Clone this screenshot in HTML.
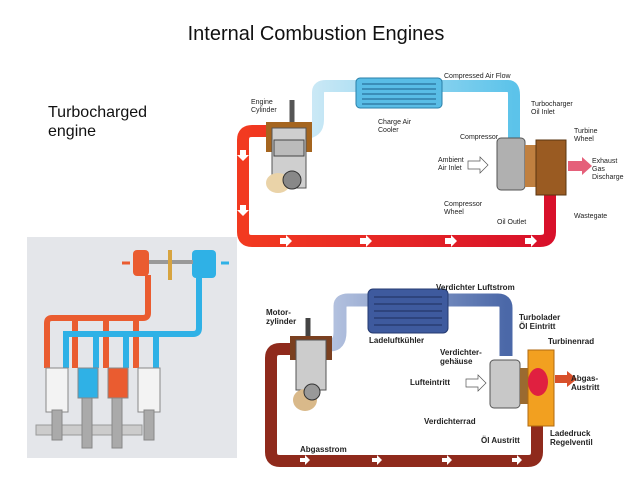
<!DOCTYPE html>
<html><head><style>
body{margin:0;width:638px;height:479px;background:#fff;overflow:hidden;font-family:"Liberation Sans",sans-serif}
</style></head><body>
<svg width="638" height="479" viewBox="0 0 638 479" xmlns="http://www.w3.org/2000/svg" font-family="Liberation Sans, sans-serif">
<defs>
<linearGradient id="rg" x1="0" x2="1"><stop offset="0" stop-color="#f23a20"/><stop offset="1" stop-color="#d8102a"/></linearGradient>
<linearGradient id="bl" x1="0" x2="1"><stop offset="0" stop-color="#cfeaf6"/><stop offset="1" stop-color="#5cc3ea"/></linearGradient>
<linearGradient id="bl2" x1="0" x2="1"><stop offset="0" stop-color="#b5c3e0"/><stop offset="1" stop-color="#4b68a8"/></linearGradient>
</defs>
<text x="316" y="40" font-size="20" text-anchor="middle" fill="#111">Internal Combustion Engines</text>
<text x="48" y="117" font-size="16" fill="#111">Turbocharged</text>
<text x="48" y="136" font-size="16" fill="#111">engine</text>

<!-- TOP DIAGRAM -->
<path d="M268 131 H252 Q243 131 243 140 V232 Q243 241 252 241 H540 Q550 241 550 232 V195" fill="none" stroke="url(#rg)" stroke-width="12"/>
<g fill="#fff"><path d="M240 150 h6 v5 h3 l-6 6 l-6 -6 h3z"/><path d="M240 205 h6 v5 h3 l-6 6 l-6 -6 h3z"/><path d="M280 238 h6 v-3 l6 6 l-6 6 v-3 h-6z"/><path d="M360 238 h6 v-3 l6 6 l-6 6 v-3 h-6z"/><path d="M445 238 h6 v-3 l6 6 l-6 6 v-3 h-6z"/><path d="M525 238 h6 v-3 l6 6 l-6 6 v-3 h-6z"/></g>
<path d="M304 133 Q318 133 318 120 V92 Q318 86 326 86 H360 M440 86 H508 Q514 86 514 95 V140" fill="none" stroke="url(#bl)" stroke-width="12"/>
<rect x="356" y="78" width="86" height="30" rx="4" fill="#59bde6" stroke="#2a7fa8"/>
<g stroke="#1d5f8a" stroke-width="1"><line x1="362" y1="84" x2="436" y2="84"/><line x1="362" y1="89" x2="436" y2="89"/><line x1="362" y1="94" x2="436" y2="94"/><line x1="362" y1="99" x2="436" y2="99"/><line x1="362" y1="104" x2="436" y2="104"/></g>
<!-- engine -->
<rect x="266" y="122" width="46" height="30" fill="#a5651f"/>
<rect x="272" y="128" width="34" height="60" fill="#cfcfcf" stroke="#555"/>
<rect x="274" y="140" width="30" height="16" fill="#bbb" stroke="#444"/>
<ellipse cx="278" cy="183" rx="12" ry="10" fill="#ead3a8"/>
<circle cx="292" cy="180" r="9" fill="#888" stroke="#333"/>
<path d="M292 122 V100" stroke="#555" stroke-width="5" fill="none"/>
<!-- turbo -->
<rect x="497" y="138" width="28" height="52" rx="4" fill="#b0b0b0" stroke="#555"/>
<rect x="525" y="145" width="12" height="42" fill="#c08040"/>
<path d="M536 140 h30 v55 h-30 z" fill="#9a5b22" stroke="#5a3510"/>
<path d="M568 161 h14 v-4 l10 9 l-10 9 v-4 h-14z" fill="#e5607a"/>
<path d="M468 161 h12 v-4 l8 8 l-8 8 v-4 h-12z" fill="#fff" stroke="#555" stroke-width=".7"/>
<g font-size="7" fill="#222">
<text x="251" y="104">Engine</text><text x="251" y="112">Cylinder</text>
<text x="378" y="124">Charge Air</text><text x="378" y="132">Cooler</text>
<text x="444" y="78">Compressed Air Flow</text>
<text x="531" y="106">Turbocharger</text><text x="531" y="114">Oil Inlet</text>
<text x="460" y="139">Compressor</text>
<text x="574" y="133">Turbine</text><text x="574" y="141">Wheel</text>
<text x="438" y="162">Ambient</text><text x="438" y="170">Air Inlet</text>
<text x="592" y="163">Exhaust</text><text x="592" y="171">Gas</text><text x="592" y="179">Discharge</text>
<text x="444" y="206">Compressor</text><text x="444" y="214">Wheel</text>
<text x="497" y="224">Oil Outlet</text>
<text x="574" y="218">Wastegate</text>
</g>

<!-- BOTTOM DIAGRAM -->
<path d="M296 349 H280 Q271 349 271 358 V452 Q271 461 280 461 H528 Q537 461 537 452 V415" fill="none" stroke="#8f2a1c" stroke-width="12"/>
<g fill="#fff"><path d="M300 458 h5 v-3 l5 5 l-5 5 v-3 h-5z"/><path d="M372 458 h5 v-3 l5 5 l-5 5 v-3 h-5z"/><path d="M442 458 h5 v-3 l5 5 l-5 5 v-3 h-5z"/><path d="M512 458 h5 v-3 l5 5 l-5 5 v-3 h-5z"/></g>
<path d="M330 345 Q340 345 340 332 V306 Q340 300 348 300 H370 M446 300 H498 Q506 300 506 308 V356" fill="none" stroke="url(#bl2)" stroke-width="13"/>
<rect x="368" y="289" width="80" height="44" rx="5" fill="#3e5a9e" stroke="#243a70"/>
<g stroke="#1e2f5c"><line x1="374" y1="297" x2="442" y2="297"/><line x1="374" y1="304" x2="442" y2="304"/><line x1="374" y1="311" x2="442" y2="311"/><line x1="374" y1="318" x2="442" y2="318"/><line x1="374" y1="325" x2="442" y2="325"/></g>
<rect x="290" y="336" width="42" height="24" fill="#7a4020"/>
<rect x="296" y="340" width="30" height="50" fill="#ccc" stroke="#555"/>
<ellipse cx="305" cy="400" rx="12" ry="11" fill="#d9b98a"/>
<circle cx="312" cy="392" r="8" fill="#999" stroke="#333"/>
<path d="M308 336 V318" stroke="#444" stroke-width="5" fill="none"/>
<rect x="490" y="360" width="30" height="48" rx="4" fill="#c8c8c8" stroke="#555"/>
<rect x="520" y="368" width="8" height="36" fill="#9a6a30"/>
<path d="M528 350 h26 v76 h-26 z" fill="#f2a020" stroke="#b06a10"/>
<ellipse cx="538" cy="382" rx="10" ry="14" fill="#e02040"/>
<path d="M555 375 h12 v-4 l10 8 l-10 8 v-4 h-12z" fill="#d8502a"/>
<path d="M466 379 h12 v-4 l8 8 l-8 8 v-4 h-12z" fill="#fff" stroke="#555" stroke-width=".7"/>
<g font-size="8" font-weight="bold" fill="#222">
<text x="266" y="315">Motor-</text><text x="266" y="324">zylinder</text>
<text x="369" y="343">Ladeluftkühler</text>
<text x="436" y="290">Verdichter Luftstrom</text>
<text x="519" y="320">Turbolader</text><text x="519" y="329">Öl Eintritt</text>
<text x="548" y="344">Turbinenrad</text>
<text x="440" y="355">Verdichter-</text><text x="440" y="364">gehäuse</text>
<text x="410" y="385">Lufteintritt</text>
<text x="571" y="381">Abgas-</text><text x="571" y="390">Austritt</text>
<text x="424" y="424">Verdichterrad</text>
<text x="481" y="443">Öl Austritt</text>
<text x="550" y="436">Ladedruck</text><text x="550" y="445">Regelventil</text>
<text x="300" y="452">Abgasstrom</text>
</g>

<!-- LEFT PANEL -->
<rect x="27" y="237" width="210" height="221" fill="#e4e6ea"/>
<path d="M148 275 V313 Q148 318 143 318 H52 Q47 318 47 323 V368 M75 318 V368 M106 318 V368 M136 318 V368" fill="none" stroke="#ea5c30" stroke-width="6"/>
<path d="M199 275 V328 Q199 334 193 334 H66 V368 M96 334 V368 M126 334 V368 M156 334 V368" fill="none" stroke="#2fb1e6" stroke-width="6"/>
<rect x="133" y="250" width="16" height="26" rx="4" fill="#ea5c30"/>
<rect x="192" y="250" width="24" height="28" rx="4" fill="#2fb1e6"/>
<rect x="149" y="260" width="44" height="4" fill="#999"/>
<rect x="168" y="250" width="4" height="30" fill="#d7a440"/>
<path d="M130 263 h-8" stroke="#ea5c30" stroke-width="3"/>
<path d="M229 263 h-8" stroke="#2fb1e6" stroke-width="3"/>
<rect x="46" y="368" width="22" height="44" fill="#f3f3f3" stroke="#888"/>
<rect x="78" y="368" width="20" height="30" fill="#2fb1e6" stroke="#888"/>
<rect x="108" y="368" width="20" height="30" fill="#ea5c30" stroke="#888"/>
<rect x="138" y="368" width="22" height="44" fill="#f3f3f3" stroke="#888"/>
<rect x="36" y="425" width="106" height="10" fill="#ccc" stroke="#999"/>
<g fill="#aaa" stroke="#888"><rect x="52" y="410" width="10" height="30"/><rect x="82" y="398" width="10" height="50"/><rect x="112" y="398" width="10" height="50"/><rect x="144" y="410" width="10" height="30"/></g>
</svg>
</body></html>
